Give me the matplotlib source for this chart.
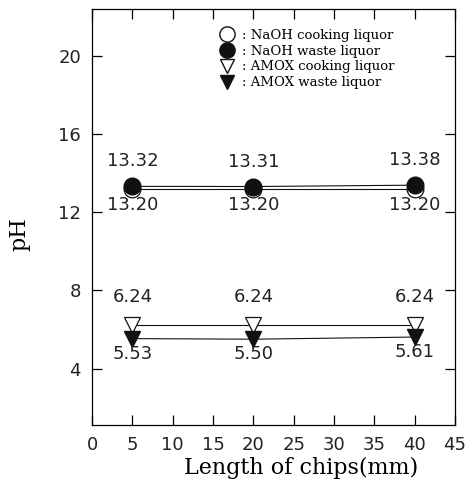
import matplotlib
matplotlib.use('Agg')
import matplotlib.pyplot as plt
from matplotlib.lines import Line2D

length = [5, 20, 40]  # chip length (mm)
naoh_cook = [13.20, 13.20, 13.20]
naoh_waste = [13.32, 13.31, 13.38]
amox_cook = [6.24, 6.24, 6.24]
amox_waste = [5.53, 5.50, 5.61]

xticks = [0, 5, 10, 15, 20, 25, 30, 35, 40, 45]
yticks = [4, 8, 12, 16, 20]
labels = [': NaOH cooking liquor', ': NaOH waste liquor',
          ': AMOX cooking liquor', ': AMOX waste liquor']

fig = plt.figure(figsize=(4.7, 4.91), dpi=100)
ax = fig.add_axes([0.196, 0.134, 0.772, 0.848])

lc = '#111111'
ax.plot(length, naoh_cook, '-o', color=lc, lw=0.8, ms=12, mfc='white', mec=lc, mew=0.9)
ax.plot(length, naoh_waste, '-o', color=lc, lw=0.8, ms=12, mfc=lc, mec=lc)
ax.plot(length, amox_cook, '-v', color=lc, lw=0.8, ms=11, mfc='white', mec=lc, mew=0.9)
ax.plot(length, amox_waste, '-v', color=lc, lw=0.8, ms=11, mfc=lc, mec=lc)

# value labels
num_font = dict(fontsize=13, family='DejaVu Sans', color='#222222', ha='center', va='center')
for x, v in zip(length, naoh_waste):
    ax.annotate('%.2f' % v, (x, v), xytext=(0, 18), textcoords='offset points', **num_font)
for x, v in zip(length, naoh_cook):
    ax.annotate('%.2f' % v, (x, v), xytext=(0, -11.5), textcoords='offset points', **num_font)
for x, v in zip(length, amox_cook):
    ax.annotate('%.2f' % v, (x, v), xytext=(0, 20), textcoords='offset points', **num_font)
for x, v in zip(length, amox_waste):
    ax.annotate('%.2f' % v, (x, v), xytext=(0, -11), textcoords='offset points', **num_font)

ax.set_xlim(0, 45)
ax.set_ylim(1.1, 22.4)
ax.set_xticks(xticks)
ax.set_yticks(yticks)
ax.tick_params(direction='in', length=7, width=0.9, top=True, right=True,
               labelsize=13, labelcolor='#222222', pad=8)
for s in ax.spines.values():
    s.set_linewidth(0.9)

ax.set_xlabel('Length of chips(mm)', family='DejaVu Serif', fontsize=16, labelpad=2)
ax.xaxis.set_label_coords(0.576, -0.075)
ax.set_ylabel('pH', family='DejaVu Serif', fontsize=16)
ax.yaxis.set_label_coords(-0.17, 0.46)

handles = [
    Line2D([], [], ls='none', marker='o', ms=11, mfc='white', mec=lc),
    Line2D([], [], ls='none', marker='o', ms=11, mfc=lc, mec=lc),
    Line2D([], [], ls='none', marker='v', ms=10, mfc='white', mec=lc),
    Line2D([], [], ls='none', marker='v', ms=10, mfc=lc, mec=lc),
]
ax.legend(handles, labels, loc='upper left', bbox_to_anchor=(0.34, 0.965), frameon=False,
          prop={'family': 'DejaVu Serif', 'size': 9.5}, handlelength=1.0,
          handletextpad=0.6, labelspacing=0.22, borderaxespad=0)

fig.savefig('out.png', dpi=100)
